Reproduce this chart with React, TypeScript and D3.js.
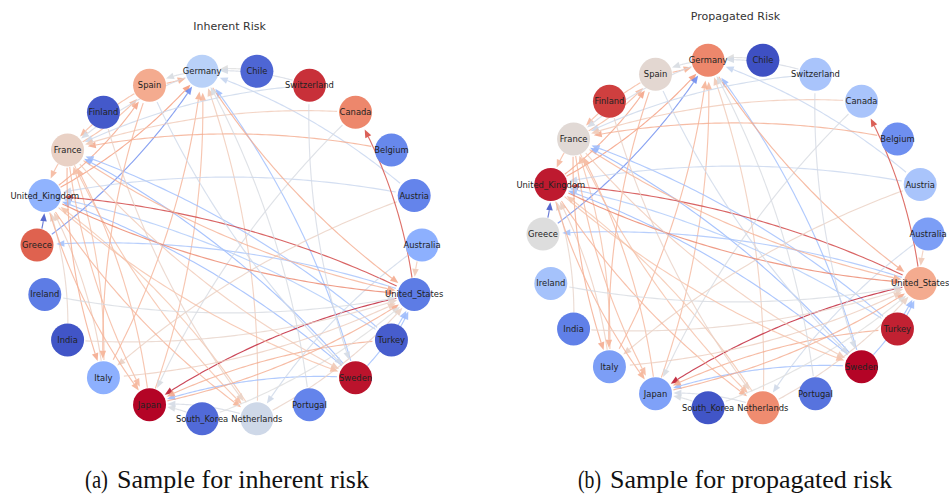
import * as d3 from "d3";
import { useEffect, useRef } from "react";

// nodes in circular-layout order (ISO codes sorted)
const codes = ["AU", "AT", "BE", "CA", "CH", "CL", "DE", "ES", "FI", "FR", "GB", "GR", "IE", "IN", "IT", "JP", "KR", "NL", "PT", "SE", "TR", "US"];
const names = ["Australia", "Austria", "Belgium", "Canada", "Switzerland", "Chile", "Germany", "Spain", "Finland", "France", "United_Kingdom", "Greece", "Ireland", "India", "Italy", "Japan", "South_Korea", "Netherlands", "Portugal", "Sweden", "Turkey", "United_States"];

// node risk on the coolwarm scale (0 = blue, 1 = red)
const inherentRisk = [0.25, 0.13, 0.14, 0.79, 0.94, 0.06, 0.38, 0.7, 0.03, 0.56, 0.26, 0.87, 0.11, 0.02, 0.25, 1.0, 0.07, 0.45, 0.13, 0.98, 0.04, 0.11];
const propagatedRisk = [0.2, 0.33, 0.16, 0.33, 0.33, 0.01, 0.79, 0.53, 0.92, 0.52, 0.97, 0.5, 0.32, 0.12, 0.2, 0.21, 0.02, 0.78, 0.09, 1.0, 0.96, 0.7];

// directed edges: source, target, edge weight on coolwarm
const edgeSources = ["CL", "CH", "DE", "ES", "GB", "GR", "SE", "JP", "IT", "NL", "AT", "GB", "FR", "ES", "DE", "CH", "BE", "CA", "TR", "SE", "IT", "JP", "FR", "GR", "US", "SE", "TR", "AT", "IT", "NL", "IN", "US", "FR", "ES", "AT", "GB", "FR", "CA", "US", "SE", "TR", "KR", "NL", "GB", "FR", "AU", "FI", "GB", "DE", "FR", "IE", "IN", "JP", "TR", "SE", "AU", "KR", "IT", "NL", "GB", "FR", "ES", "US", "CH", "PT"];
const edgeTargets = ["DE", "DE", "ES", "DE", "DE", "DE", "DE", "DE", "DE", "DE", "DE", "ES", "ES", "FR", "FR", "FR", "FR", "FR", "FR", "FR", "FR", "FR", "GB", "GB", "GB", "GB", "GB", "GB", "GB", "GB", "GB", "GR", "IT", "IT", "IT", "JP", "JP", "JP", "JP", "JP", "JP", "JP", "JP", "NL", "NL", "NL", "NL", "US", "US", "US", "US", "US", "US", "US", "US", "US", "US", "US", "US", "SE", "SE", "SE", "CA", "SE", "DE"];
const edgeWeights = [0.5, 0.47, 0.48, 0.68, 0.75, 0.15, 0.3, 0.66, 0.68, 0.6, 0.42, 0.72, 0.66, 0.66, 0.47, 0.44, 0.7, 0.6, 0.3, 0.27, 0.64, 0.66, 0.66, 0.03, 0.92, 0.28, 0.35, 0.43, 0.58, 0.62, 0.55, 0.32, 0.7, 0.68, 0.57, 0.68, 0.66, 0.48, 0.97, 0.3, 0.7, 0.48, 0.47, 0.68, 0.64, 0.45, 0.56, 0.8, 0.7, 0.68, 0.48, 0.55, 0.7, 0.3, 0.3, 0.6, 0.5, 0.58, 0.56, 0.64, 0.6, 0.45, 0.9, 0.47, 0.48];

const coolwarm = d3
  .scaleLinear<string>()
  .domain([0, 0.125, 0.25, 0.375, 0.5, 0.625, 0.75, 0.875, 1])
  .range(["#3b4cc0", "#6282ea", "#8db0fe", "#b8d0f9", "#dddddd", "#f5c4ac", "#f49a7b", "#de604d", "#b40426"])
  .interpolate(d3.interpolateRgb)
  .clamp(true);

const W = 949;
const H = 496;
const R = 16.5;

function drawPanel(g, cx, cy, values, title, titleY) {
  const n = codes.length;
  const angle = d3.scaleLinear().domain([0, n]).range([0, 2 * Math.PI]);
  const pos = codes.map((c, i) => [cx + 192.5 * Math.cos(angle(i)), cy - 175.5 * Math.sin(angle(i))]);

  g.append("text")
    .attr("x", cx)
    .attr("y", titleY)
    .attr("text-anchor", "middle")
    .attr("font-family", "DejaVu Sans")
    .attr("font-size", 11)
    .attr("fill", "#333")
    .text(title);

  const edgeG = g.append("g");
  edgeSources.forEach((s, k) => {
    const p0 = pos[codes.indexOf(s)];
    const p2 = pos[codes.indexOf(edgeTargets[k])];
    const dx = p2[0] - p0[0];
    const dy = p2[1] - p0[1];
    // arc3, rad=0.1
    const c = [(p0[0] + p2[0]) / 2 - 0.1 * dy, (p0[1] + p2[1]) / 2 + 0.1 * dx];
    const pts = d3.range(0, 1.0001, 1 / 80).map((t) => [
      (1 - t) * (1 - t) * p0[0] + 2 * (1 - t) * t * c[0] + t * t * p2[0],
      (1 - t) * (1 - t) * p0[1] + 2 * (1 - t) * t * c[1] + t * t * p2[1],
    ]);
    const dist = (a, b) => Math.hypot(a[0] - b[0], a[1] - b[1]);
    const seg = pts.filter((p) => dist(p, p0) >= R && dist(p, p2) >= R + 1);
    if (seg.length < 2) return;
    const tip = seg[seg.length - 1];
    const prev = seg[Math.max(0, seg.length - 4)];
    const len = dist(tip, prev) || 1;
    const ux = (tip[0] - prev[0]) / len;
    const uy = (tip[1] - prev[1]) / len;
    const base = [tip[0] - 8 * ux, tip[1] - 8 * uy];
    const line = seg.filter((p) => dist(p, p2) >= dist(base, p2));
    line.push(base);
    const col = coolwarm(edgeWeights[k]);
    edgeG
      .append("path")
      .attr("d", d3.line()(line))
      .attr("fill", "none")
      .attr("stroke", col)
      .attr("stroke-width", 1.15)
      .attr("stroke-opacity", 0.8);
    edgeG
      .append("path")
      .attr(
        "d",
        `M${tip[0]},${tip[1]}L${base[0] + 3.3 * uy},${base[1] - 3.3 * ux}L${base[0] - 3.3 * uy},${base[1] + 3.3 * ux}Z`
      )
      .attr("fill", col)
      .attr("fill-opacity", 0.9);
  });

  g.append("g")
    .selectAll("circle")
    .data(codes)
    .join("circle")
    .attr("cx", (d, i) => pos[i][0])
    .attr("cy", (d, i) => pos[i][1])
    .attr("r", R)
    .attr("fill", (d, i) => coolwarm(values[i]));

  g.append("g")
    .selectAll("text")
    .data(names)
    .join("text")
    .attr("x", (d, i) => pos[i][0])
    .attr("y", (d, i) => pos[i][1] + 3)
    .attr("text-anchor", "middle")
    .attr("font-family", "DejaVu Sans")
    .attr("font-size", 8.4)
    .attr("fill", "#222")
    .text((d) => d);
}

export default function App() {
  const svgRef = useRef(null);

  useEffect(() => {
    const svg = d3.select(svgRef.current);
    svg.selectAll("*").remove();
    svg.append("rect").attr("width", W).attr("height", H).attr("fill", "#fff");

    drawPanel(svg.append("g"), 229.5, 245, inherentRisk, "Inherent Risk", 30);
    drawPanel(svg.append("g"), 735.5, 234, propagatedRisk, "Propagated Risk", 20);

    //captions
    const cap = [
      ["(a)", "Sample for inherent risk", 85],
      ["(b)", "Sample for propagated risk", 578],
    ];
    cap.forEach(([a, b, x]) => {
      const t = svg
        .append("text")
        .attr("y", 488)
        .attr("font-family", "Liberation Serif")
        .attr("font-size", 26)
        .attr("fill", "#111");
      t.append("tspan")
        .attr("x", x)
        .attr("textLength", 23)
        .attr("lengthAdjust", "spacingAndGlyphs")
        .text(a);
      t.append("tspan").attr("x", x + 32).text(b);
    });
  }, []);

  return <svg ref={svgRef} width={W} height={H} style={{ position: "absolute", left: 0, top: 0 }} />;
}
